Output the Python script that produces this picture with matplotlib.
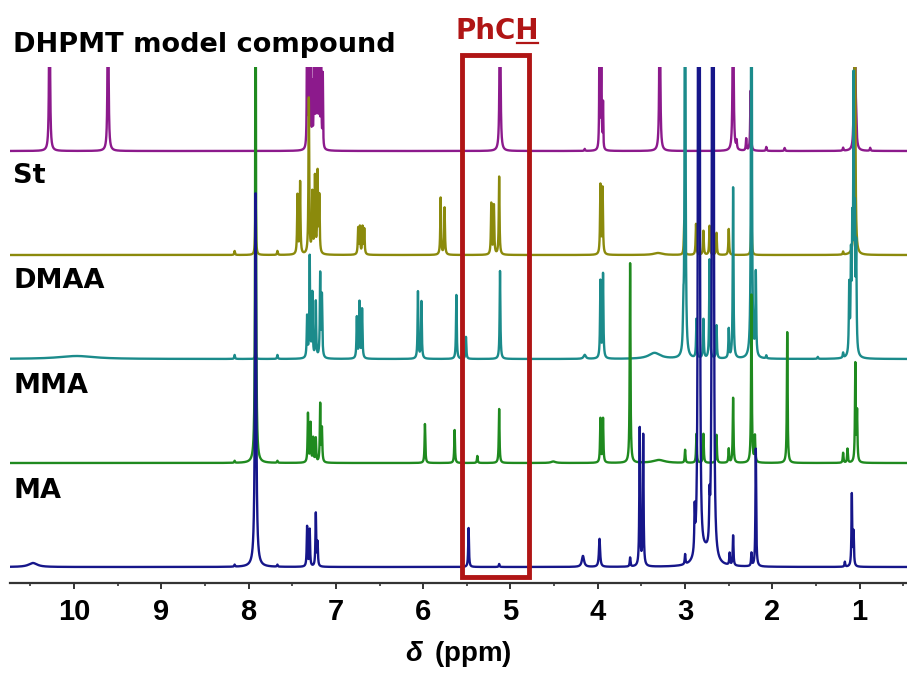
import numpy as np
import matplotlib
matplotlib.use("Agg")
import matplotlib.pyplot as plt
from matplotlib.patches import Rectangle
from matplotlib.lines import Line2D
from matplotlib.ticker import MultipleLocator

plt.rcParams['mathtext.fontset'] = 'custom'
plt.rcParams['mathtext.bfit'] = 'Liberation Sans:italic:bold'

# peak lists: (ppm, height, half width) - half width optional
dhpmt_peaks = [(10.28, 250), (9.61, 250),
               (7.33, 200, 0.003), (7.31, 200, 0.003), (7.29, 180, 0.003), (7.27, 60, 0.003),
               (7.25, 200, 0.003), (7.23, 190, 0.003), (7.21, 200, 0.003), (7.19, 190, 0.003),
               (7.17, 180, 0.003), (7.15, 73, 0.003),
               (5.12, 250), (4.15, 2), (3.98, 200, 0.003), (3.96, 200, 0.003), (3.94, 45, 0.003),
               (3.29, 250), (2.45, 250), (2.41, 8), (2.30, 12), (2.25, 60), (2.07, 4), (1.86, 3),
               (1.19, 3), (1.07, 20), (1.055, 250), (1.04, 20), (0.88, 3)]
st_peaks = [(8.16, 4), (7.92, 60), (7.67, 4), (7.44, 59), (7.41, 72), (7.31, 156), (7.27, 60),
            (7.24, 76), (7.21, 80), (7.19, 56), (6.745, 26), (6.725, 27), (6.695, 27), (6.675, 25),
            (5.80, 57), (5.755, 47), (5.22, 51), (5.19, 49), (5.13, 78), (3.97, 69), (3.945, 66),
            (3.31, 2, 0.06), (3.01, 34), (2.875, 31), (2.79, 24), (2.72, 29), (2.64, 22), (2.50, 26),
            (2.24, 40), (1.19, 3), (1.055, 400)]
dmaa_peaks = [(9.97, 3, 0.25), (8.16, 4), (7.92, 8), (7.67, 4),
              (7.33, 41), (7.30, 101), (7.27, 64), (7.23, 56), (7.18, 83), (7.16, 61),
              (6.76, 41), (6.73, 56), (6.70, 49), (6.06, 67), (6.02, 57), (5.62, 64), (5.51, 22),
              (5.12, 88), (4.15, 4, 0.015), (3.97, 77), (3.94, 84), (3.35, 6, 0.08), (3.02, 36),
              (3.00, 600), (2.87, 39), (2.79, 39), (2.72, 99), (2.64, 33), (2.50, 29), (2.45, 171),
              (2.24, 600), (2.19, 83), (2.07, 3), (1.48, 2), (1.19, 5), (1.12, 68), (1.10, 90),
              (1.085, 110), (1.07, 260), (1.055, 120), (1.04, 100)]
mma_peaks = [(8.16, 2), (7.92, 600), (7.67, 2), (7.32, 49), (7.29, 39), (7.26, 24), (7.23, 24),
             (7.18, 58), (7.16, 33), (5.98, 39), (5.64, 33), (5.38, 7), (5.13, 54), (4.51, 1.5, 0.03),
             (3.97, 44), (3.94, 44), (3.63, 200), (3.3, 3, 0.08), (3.00, 13), (2.87, 29), (2.79, 29),
             (2.64, 28), (2.50, 14), (2.45, 65), (2.24, 168), (2.20, 26), (1.83, 131), (1.19, 10),
             (1.14, 14), (1.05, 98), (1.03, 49)]
ma_peaks = [(10.47, 4, 0.06), (8.16, 2), (7.92, 374, 0.008), (7.67, 2), (7.33, 40), (7.30, 37),
            (7.23, 53), (7.21, 23), (5.48, 39), (5.13, 3), (4.17, 11, 0.015), (3.98, 28, 0.008),
            (3.63, 9), (3.52, 138), (3.48, 131), (3.00, 10), (2.89, 42), (2.848, 900), (2.836, 900),
            (2.77, 10, 0.06), (2.72, 40), (2.688, 900), (2.676, 900), (2.49, 12), (2.45, 30),
            (2.24, 13), (2.19, 118), (1.17, 5), (1.09, 72), (1.07, 33)]

names = ["MA", "MMA", "DMAA", "St", "DHPMT model compound"]
spectra = [ma_peaks, mma_peaks, dmaa_peaks, st_peaks, dhpmt_peaks]
colors = ["#16168a", "#1f8a1f", "#1b8b8b", "#8b8a0c", "#8c1a8c"]
box_range = (5.556, 4.785)
x_ticks = [10, 9, 8, 7, 6, 5, 4, 3, 2, 1]

W, H = 907, 673
ppm = np.linspace(10.75, 0.44, 24000)


def trace(peaks):
    y = np.zeros_like(ppm)
    for p in peaks:
        w = p[2] if len(p) > 2 else 0.005
        y += p[1] * w ** 2 / ((ppm - p[0]) ** 2 + w ** 2)
    return y


fig = plt.figure(figsize=(W / 100, H / 100), dpi=100)
ax = fig.add_axes([10 / W, 90 / H, 897 / W, 516 / H])

step = 104
label_y = [498, 393, 288, 183, 52]
for i, (peaks, c) in enumerate(zip(spectra, colors)):
    # MA is drawn on top, DHPMT at the back
    ax.plot(ppm, trace(peaks) + i * step, color=c, lw=1.7, zorder=8 - i)
    fig.text(13 / W, 1 - label_y[i] / H, names[i], fontsize=19.5, fontweight='bold',
             va='baseline', ha='left')

ax.set_xlim(10.733, 0.458)
ax.set_ylim(-16, 500)
for s in ['left', 'right', 'top']:
    ax.spines[s].set_visible(False)
ax.spines['bottom'].set_linewidth(1.6)
ax.spines['bottom'].set_color('#333333')
ax.set_yticks([])
ax.xaxis.set_major_locator(MultipleLocator(1))
ax.xaxis.set_minor_locator(MultipleLocator(0.5))
ax.set_xticks(x_ticks)
ax.tick_params(axis='x', which='major', length=4, width=1.4, color='#333333', pad=7)
ax.tick_params(axis='x', which='minor', length=2.5, width=1.2, color='#333333')
for lab in ax.get_xticklabels():
    lab.set_fontfamily('Liberation Sans')
    lab.set_fontweight('bold')
    lab.set_fontsize(21)
ax.set_xlabel(r'$\mathbfit{\delta}\,$ (ppm)', fontsize=20, fontweight='bold',
              fontfamily='Liberation Sans', labelpad=9)

red = '#b01515'
ax.add_patch(Rectangle((box_range[0], -10), box_range[1] - box_range[0], 522,
                       fill=False, edgecolor=red, lw=3.5, clip_on=False, zorder=10))

# PhCH label with the H underlined
t = fig.text(497 / W, 1 - 39 / H, 'PhCH', fontsize=20, fontweight='bold', color=red,
             ha='center', va='baseline')
fig.canvas.draw()
r = fig.canvas.get_renderer()
bb = t.get_window_extent(r)
tmp = fig.text(0, 0, 'PhC', fontsize=20, fontweight='bold')
w_phc = tmp.get_window_extent(r).width
tmp.remove()
y_ul = (H - 42.5) / H
fig.add_artist(Line2D([(bb.x0 + w_phc + 1) / W, (bb.x1 - 1) / W], [y_ul, y_ul],
                      transform=fig.transFigure, color=red, lw=1.6))

fig.savefig("out.png", dpi=100)
